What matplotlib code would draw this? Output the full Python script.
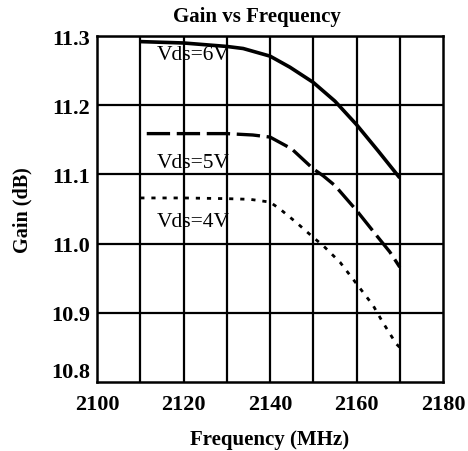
import matplotlib.pyplot as plt
import numpy as np

# values
freq_6v = [2110, 2120, 2130, 2133.8, 2140, 2144.6, 2150, 2155, 2160, 2165, 2170]
gain_6v = [11.292, 11.290, 11.285, 11.282, 11.271, 11.255, 11.233, 11.206, 11.172, 11.134, 11.095]

freq_5v = [2111.5, 2120, 2130, 2136, 2140, 2145, 2150, 2152.3, 2155, 2160, 2164.6, 2167.7, 2170]
gain_5v = [11.159, 11.159, 11.159, 11.157, 11.154, 11.137, 11.108, 11.098, 11.084, 11.048, 11.012, 10.988, 10.966]

freq_4v = [2110, 2120, 2130, 2135.4, 2140, 2142.3, 2146, 2150, 2152.3, 2156.2, 2160, 2163.8, 2166, 2169.2, 2170]
gain_4v = [11.066, 11.066, 11.065, 11.064, 11.060, 11.050, 11.031, 11.009, 10.997, 10.973, 10.942, 10.911, 10.887, 10.855, 10.850]

labels = ['Vds=6V', 'Vds=5V', 'Vds=4V']
label_pos = [(2113.9, 11.274), (2113.9, 11.117), (2113.9, 11.032)]

x_ticks = [2100, 2120, 2140, 2160, 2180]
y_ticks = [10.8, 10.9, 11.0, 11.1, 11.2, 11.3]

plt.rcParams['font.family'] = ['Liberation Serif', 'DejaVu Serif']

fig = plt.figure(figsize=(4.68, 4.52), dpi=100)
ax = fig.add_axes([0.2073, 0.1527, 0.7393, 0.7653])

    # grid every 10 MHz and 0.1 dB
for xv in np.arange(2110, 2180, 10):
    ax.axvline(xv, color='black', lw=1.6, zorder=1)
for yv in np.arange(10.9, 11.3, 0.1):
    ax.axhline(yv, color='black', lw=1.6, zorder=1)

ax.plot(freq_6v, gain_6v, color='black', lw=2.6, solid_capstyle='butt', zorder=3)
ax.plot(freq_5v, gain_5v, color='black', lw=2.4, dashes=(7, 2), zorder=3)
ax.plot(freq_4v, gain_4v, color='black', lw=2.0, dashes=(1.5, 2.5), zorder=3)

for txt, (xp, yp) in zip(labels, label_pos):
    ax.text(xp, yp, txt, fontsize=15.5, va='center', ha='left', zorder=4)

ax.set_xlim(2100, 2180)
ax.set_ylim(10.8, 11.3)
ax.set_xticks(x_ticks)
ax.set_yticks(y_ticks)
ax.set_xticklabels([str(v) for v in x_ticks], fontsize=16, fontweight='bold')
ax.set_yticklabels(['%.1f' % v for v in y_ticks], fontsize=16, fontweight='bold')
ax.tick_params(length=0)
ax.tick_params(axis='x', pad=9)
ax.tick_params(axis='y', pad=5)
    # lift the bottom y label a little, as in the original
ax.get_yticklabels()[0].set_va('bottom')
for sp in ax.spines.values():
    sp.set_linewidth(1.8)

ax.set_title('Gain vs Frequency', fontsize=15, fontweight='bold', x=0.462, y=1.058, va='center', pad=0)
ax.set_xlabel('Frequency (MHz)', fontsize=15, fontweight='bold', va='center')
ax.xaxis.set_label_coords(0.5, -0.165)
ax.set_ylabel('Gain (dB)', fontsize=14.5, fontweight='bold', va='center')
ax.yaxis.set_label_coords(-0.215, 0.5)

plt.savefig('out.png', dpi=100)
